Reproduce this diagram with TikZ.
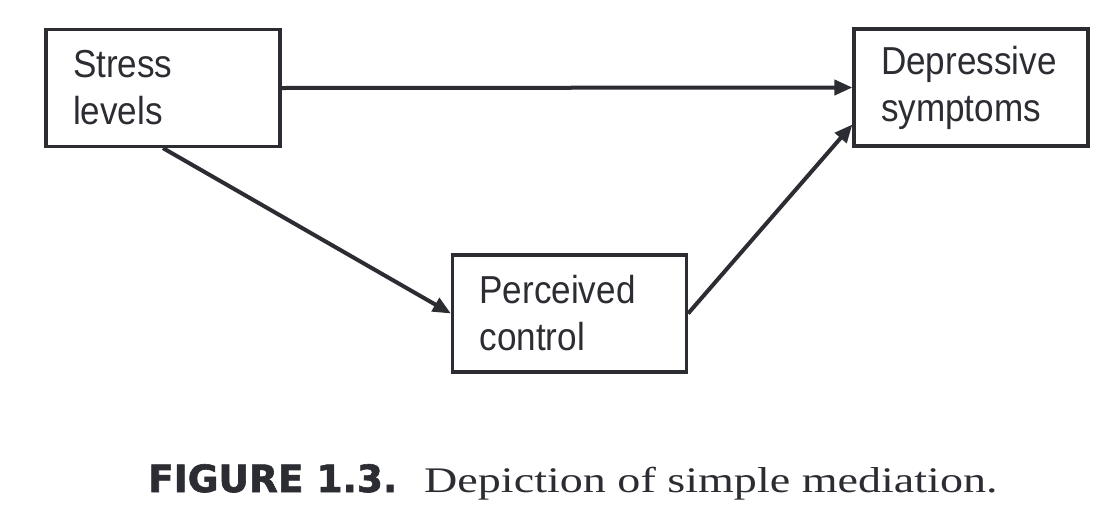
\documentclass[tikz,border=0pt]{standalone}
\usepackage{fontspec}
\usetikzlibrary{arrows.meta}
\newfontfamily\boxfont[FakeStretch=0.9]{Liberation Sans}
\newfontfamily\capsans[BoldFeatures={FakeBold=1.6}]{DejaVu Sans}
\newfontfamily\capserif[FakeStretch=1.28]{Liberation Serif}
\definecolor{ink}{HTML}{2B2D33}
\begin{document}
\begin{tikzpicture}[x=1pt,y=-1pt,
  box/.style={draw=ink, line width=3.2pt, minimum width=234pt, minimum height=117pt,
    inner xsep=27pt, text width=180pt, align=left,
    font=\boxfont\fontsize{39}{47}\selectfont, text=ink},
  arr/.style={draw=ink, line width=4pt, -{Triangle[length=18pt,width=15pt]}}]
\useasboundingbox (0,0) rectangle (1112,520);
\fill[white] (0,0) rectangle (1112,520);
\node[box] (s) at (163,88) {Stress\\levels};
\node[box] (d) at (971,87.5) {Depressive\\symptoms};
\node[box] (p) at (569.5,313.5) {Perceived\\control};
\draw[arr] (s.east) -- (d.west);
\draw[arr] (s.south) -- (p.west);
\draw[arr] (p.east) -- ([yshift=-37pt]d.west);
\node[anchor=base west, inner sep=0pt, text=ink] (cap) at (148,492)
  {{\capsans\bfseries\fontsize{37.5}{40}\selectfont FIGURE 1.3.}\hspace{27pt}{\capserif\fontsize{36}{40}\selectfont Depiction of simple mediation.}};
\end{tikzpicture}
\end{document}
